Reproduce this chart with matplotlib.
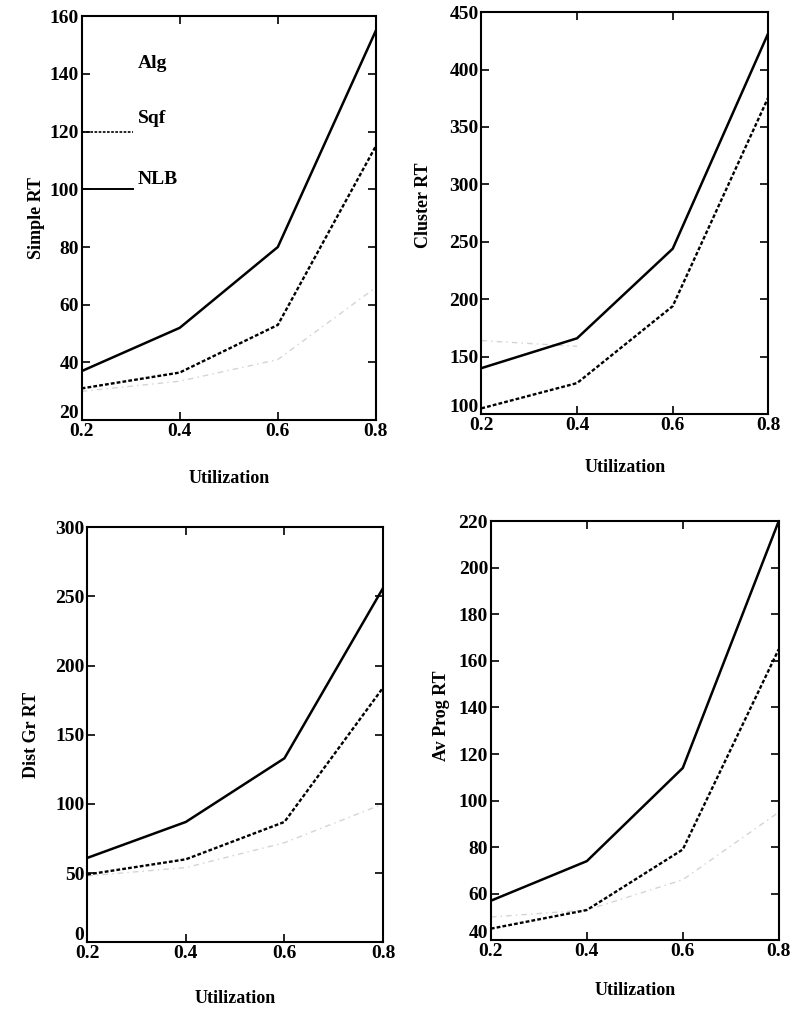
import numpy as np
import matplotlib.pyplot as plt
import matplotlib.transforms as mtransforms

# utilization levels
util = [0.2, 0.4, 0.6, 0.8]

# Simple RT
simple_nlb = [37, 52, 80, 155]
simple_sqf = [31, 36.5, 53, 115]
simple_alg = [30, 33.5, 41, 66]

# Cluster RT
cluster_nlb = [140, 166, 244, 432]
cluster_sqf = [105, 127, 194, 376]
cluster_alg = [164, 159, np.nan, np.nan]

# Dist Gr RT
dist_nlb = [61, 87, 133, 256]
dist_sqf = [49, 60, 87, 184]
dist_alg = [48, 54, 72, 100]

# Av Prog RT
prog_nlb = [57, 74, 114, 220]
prog_sqf = [45, 53, 79, 165]
prog_alg = [50, 53, 66, 95]

panels = [
    ("Simple RT", simple_nlb, simple_sqf, simple_alg, (20, 160), np.arange(20, 161, 20)),
    ("Cluster RT", cluster_nlb, cluster_sqf, cluster_alg, (100, 450), np.arange(100, 451, 50)),
    ("Dist Gr RT", dist_nlb, dist_sqf, dist_alg, (0, 300), np.arange(0, 301, 50)),
    ("Av Prog RT", prog_nlb, prog_sqf, prog_alg, (40, 220), np.arange(40, 221, 20)),
]

# axes rectangles (fig fraction)
rects = [
    [0.103, 0.584, 0.371, 0.400],
    [0.607, 0.590, 0.362, 0.398],
    [0.110, 0.067, 0.373, 0.411],
    [0.619, 0.069, 0.363, 0.415],
]
# label positions in axes fraction
ylab_xy = [(-0.126, 0.5), (-0.171, 0.52), (-0.159, 0.5), (-0.142, 0.535)]
xlab_y = [-0.144, -0.134, -0.135, -0.119]

plt.rcParams['font.family'] = ['Liberation Serif', 'DejaVu Serif']
plt.rcParams['font.weight'] = 'bold'

fig = plt.figure(figsize=(7.93, 10.1), dpi=100)

for i, ((ylab, nlb, sqf, alg, ylim, yt), r) in enumerate(zip(panels, rects)):
    ax = fig.add_axes(r)
    ax.plot(util, alg, color='#d4d4d4', lw=1.0, ls=(0, (4, 3, 1, 3)))
    ax.plot(util, sqf, color='black', lw=1.7, ls=(0, (1.6, 0.9)))
    ax.plot(util, nlb, color='black', lw=1.8)
    ax.set_xlim(0.2, 0.8)
    ax.set_ylim(*ylim)
    ax.set_xticks([0.2, 0.4, 0.6, 0.8])
    ax.set_xticklabels(['0.2', '0.4', '0.6', '0.8'])
    ax.set_yticks(yt)
    ax.tick_params(direction='in', top=True, right=True, length=6, width=1.2,
                   labelsize=14, pad=2)
    # nudge the corner y label up so it clears the first x label
    lab0 = ax.get_yticklabels()[0]
    lab0.set_transform(lab0.get_transform() +
                       mtransforms.ScaledTranslation(0, 6 / 72, fig.dpi_scale_trans))
    for s in ax.spines.values():
        s.set_linewidth(1.5)
    ax.set_ylabel(ylab, fontsize=13, fontweight='bold')
    ax.yaxis.set_label_coords(*ylab_xy[i])
    ax.set_xlabel('Utilization', fontsize=13, fontweight='bold', va='center')
    ax.xaxis.set_label_coords(0.5, xlab_y[i])
    if ylab == "Simple RT":
        ax.text(0.314, 143.5, 'Alg', fontsize=14, va='center')
        ax.plot([0.2, 0.305], [120, 120], color='black', lw=1.2, ls=(0, (1.6, 0.9)))
        ax.text(0.314, 124.5, 'Sqf', fontsize=14, va='center')
        ax.plot([0.2, 0.305], [100, 100], color='black', lw=1.4)
        ax.text(0.314, 103.5, 'NLB', fontsize=14, va='center')

fig.savefig('out.png', dpi=100)
